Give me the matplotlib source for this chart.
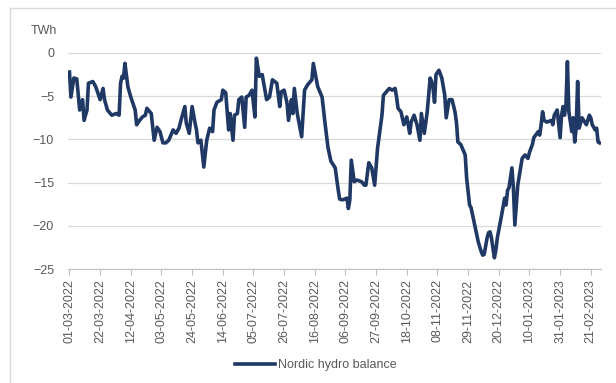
import numpy as np
import matplotlib.pyplot as plt
from matplotlib.patches import Rectangle

plt.rcParams['font.family'] = ['Liberation Sans', 'DejaVu Sans']

# dagen sinds 01-03-2022 en hydro balance (TWh)
start = np.datetime64("2022-03-01")
dag = [0, 1, 3, 5, 7, 9, 10, 12, 13, 16, 18, 21, 23, 24, 26, 29, 32, 34, 35, 36,
       37, 38, 40, 42, 45, 46, 48, 50, 52, 53, 56, 58, 60, 62, 64, 66, 68, 71, 73, 75,
       77, 79, 80, 82, 84, 86, 87, 88, 90, 92, 94, 96, 98, 99, 101, 104, 105, 107, 109, 110,
       112, 113, 115, 116, 118, 120, 121, 123, 125, 127, 128, 130, 132, 135, 137, 139, 142, 144, 145, 147,
       149, 150, 152, 153, 154, 156, 159, 161, 163, 166, 167, 170, 173, 175, 177, 179, 182, 184, 185, 187,
       190, 191, 192, 193, 195, 197, 200, 202, 203, 205, 207, 209, 211, 214, 215, 217, 219, 221, 223, 224,
       225, 227, 229, 231, 233, 234, 236, 238, 240, 241, 243, 245, 247, 248, 249, 250, 251, 253, 255, 257,
       258, 260, 262, 264, 265, 266, 268, 271, 272, 274, 275, 276, 279, 280, 282, 283, 284, 286, 287, 288,
       289, 290, 291, 292, 293, 296, 298, 299, 300, 301, 303, 304, 305, 307, 310, 312, 314, 315, 317, 318,
       321, 322, 323, 324, 325, 327, 330, 331, 332, 334, 336, 337, 338, 339, 340, 341, 342, 344, 345, 346,
       347, 348, 349, 351, 354, 356, 357, 358, 360, 361, 362, 363]
balans = [-2.2, -5.1, -2.9, -3.0, -6.6, -5.4, -7.8, -6.6, -3.5, -3.3, -3.9, -5.4, -4.1, -5.4, -6.6, -7.2, -7.0, -7.2, -3.5, -2.7,
          -2.9, -1.2, -3.9, -5.1, -6.6, -8.3, -7.8, -7.4, -7.2, -6.4, -7.0, -10.1, -8.6, -9.1, -10.4, -10.4, -10.1, -8.9, -9.3, -8.7,
          -7.4, -6.2, -8.1, -9.3, -6.2, -8.1, -8.9, -10.4, -10.1, -13.2, -10.1, -8.7, -9.1, -6.6, -5.7, -5.4, -4.3, -4.6, -8.9, -7.0,
          -10.1, -7.2, -7.0, -5.4, -5.1, -8.6, -5.1, -4.9, -4.3, -7.4, -0.6, -2.7, -2.5, -5.4, -5.1, -3.1, -3.5, -6.2, -4.5, -4.3,
          -5.8, -7.8, -5.4, -7.0, -4.1, -7.0, -9.7, -4.3, -3.7, -3.1, -1.2, -3.9, -5.1, -8.1, -10.9, -12.5, -13.3, -15.8, -16.9, -17.0,
          -16.8, -18.0, -17.0, -12.4, -14.9, -14.7, -14.9, -15.3, -15.3, -12.7, -13.3, -15.3, -11.0, -7.2, -4.9, -4.5, -4.1, -4.3, -4.1, -5.1,
          -6.4, -6.8, -8.3, -7.4, -9.3, -8.0, -7.2, -8.3, -10.1, -7.0, -9.3, -6.8, -2.9, -3.3, -4.1, -5.7, -2.5, -2.0, -2.9, -4.9,
          -7.5, -5.4, -5.4, -6.8, -8.0, -10.3, -10.6, -11.8, -14.5, -17.6, -17.9, -18.7, -21.1, -21.9, -23.0, -23.4, -23.3, -21.4, -20.8, -20.7,
          -21.4, -22.6, -23.7, -22.8, -21.4, -18.7, -16.8, -17.6, -15.9, -15.6, -13.3, -15.6, -19.9, -15.3, -12.2, -11.8, -12.2, -11.5, -10.6, -9.8,
          -9.1, -9.5, -8.3, -6.8, -7.8, -8.0, -7.8, -8.3, -7.2, -6.6, -9.8, -7.2, -6.2, -7.2, -6.0, -1.0, -6.8, -9.1, -7.5, -10.3,
          -8.7, -3.3, -8.7, -7.5, -8.3, -7.2, -7.5, -8.3, -8.9, -8.7, -10.3, -10.4]

fechas = start + np.array(dag)
ticks = start + np.arange(0, 358, 21)

fig = plt.figure(figsize=(6.16, 3.83), dpi=100)
ax = fig.add_axes([68/616, 1 - 269/383, 533/616, 216/383])

# marco del grafico
fig.patches.append(Rectangle((10/616, -0.1), 1.2, 1 - 8/383 + 0.1, transform=fig.transFigure,
                             fill=False, edgecolor="#d9d9d9", lw=1))

ax.plot(fechas, balans, color="#1f3864", lw=2.6, label="Nordic hydro balance")

ax.set_ylim(-25, 0)
ax.set_yticks(np.arange(-25, 1, 5))
ax.set_xlim(start - np.timedelta64(1, "D"), start + np.timedelta64(364, "D"))
ax.set_xticks(ticks)
ax.set_xticklabels([str(t)[8:10] + "-" + str(t)[5:7] + "-" + str(t)[0:4] for t in ticks.astype("datetime64[D]")],
                   rotation=90)

ax.grid(True, axis="y", color="#d9d9d9", lw=0.9)
ax.set_axisbelow(True)
for s in ["top", "right", "left"]:
    ax.spines[s].set_visible(False)
ax.spines["bottom"].set_color("#bfbfbf")
ax.tick_params(axis="y", length=0, labelsize=9, labelcolor="#595959", pad=10)
ax.tick_params(axis="x", length=4, color="#bfbfbf", labelsize=9, labelcolor="#595959")

fig.text(31/616, 1 - 31/383, "TWh", fontsize=9, color="#595959", va="center")
fig.legend(loc="center", bbox_to_anchor=(316/616, 1 - 365/383), frameon=False,
           fontsize=9, handlelength=3.2, handletextpad=0.2, labelcolor="#595959")

fig.savefig("out.png", dpi=100)
